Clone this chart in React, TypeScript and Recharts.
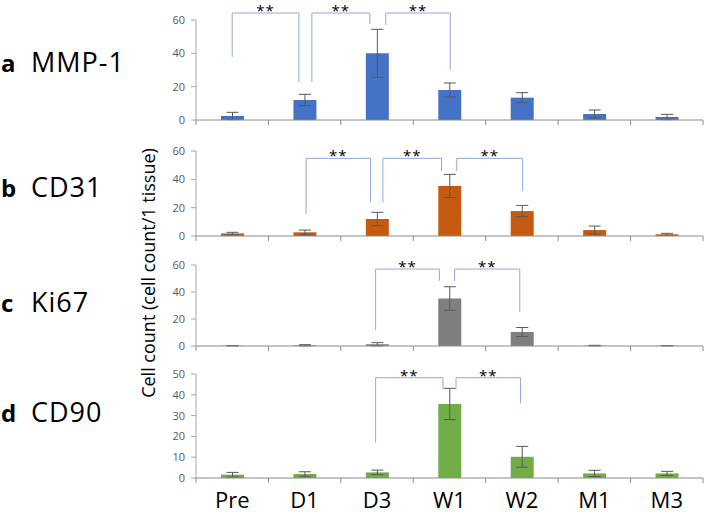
import { BarChart, Bar, XAxis, YAxis, ErrorBar, ReferenceLine } from "recharts";

// time points
const categories = ["Pre", "D1", "D3", "W1", "W2", "M1", "M3"];

// mean cell counts and SD
const mmp1 = [2.4, 12, 40, 18, 13.4, 3.6, 1.8];
const mmp1Err = [2.2, 3.4, 14.4, 4.2, 3, 2.4, 1.6];
const cd31 = [1.8, 2.6, 12, 35.3, 17.6, 4.2, 1.2];
const cd31Err = [0.8, 1.6, 4.7, 8.2, 4, 2.8, 0.7];
const ki67 = [0.2, 0.5, 1.3, 35.2, 10.4, 0.3, 0.2];
const ki67Err = [0.1, 0.5, 1.2, 8.7, 3.3, 0.2, 0.1];
const cd90 = [1.6, 1.9, 2.7, 35.6, 10.2, 2.2, 2.2];
const cd90Err = [1.1, 1.1, 1.1, 7.5, 5, 1.5, 1];

const ticks60 = [0, 20, 40, 60];
const ticks50 = [0, 10, 20, 30, 40, 50];

// significance brackets: x in category units (0..7), y in data units
type Bracket = { x1: number; x2: number; top: number; b1: number; b2: number };
const mmp1Brackets: Bracket[] = [
  { x1: 0.5, x2: 1.42, top: 64.2, b1: 37.8, b2: 22.8 },
  { x1: 1.6, x2: 2.4, top: 64.2, b1: 22.8, b2: 57.6 },
  { x1: 2.62, x2: 3.51, top: 64.2, b1: 57, b2: 30 },
];
const cd31Brackets: Bracket[] = [
  { x1: 1.52, x2: 2.41, top: 54.8, b1: 15.5, b2: 24 },
  { x1: 2.58, x2: 3.39, top: 54.8, b1: 24, b2: 45.9 },
  { x1: 3.6, x2: 4.51, top: 54.8, b1: 45.9, b2: 31.8 },
];
const ki67Brackets: Bracket[] = [
  { x1: 2.48, x2: 3.36, top: 57, b1: 11.7, b2: 48.3 },
  { x1: 3.57, x2: 4.47, top: 57, b1: 48.3, b2: 25.3 },
];
const cd90Brackets: Bracket[] = [
  { x1: 2.48, x2: 3.41, top: 48.2, b1: 17, b2: 42.8 },
  { x1: 3.59, x2: 4.48, top: 48.2, b1: 42.8, b2: 35.9 },
];

const FONT = "'Open Sans', sans-serif";
const BRACKET = "#8FAADC";
const PLOT_LEFT = 196;
const CHART_LEFT = 150;
const CHART_W = 709 - CHART_LEFT;

const edgeTicks = Array.from({ length: categories.length * 2 + 1 }, (_, i) => i / 2);

const panels = [
  { letter: "a", name: "MMP-1", values: mmp1, errors: mmp1Err, color: "#4472C4", brackets: mmp1Brackets,
    yMax: 60, yTicks: ticks60, top: 0, marginTop: 20, plotH: 100, axisH: 10, labels: false, baseline: 72 },
  { letter: "b", name: "CD31", values: cd31, errors: cd31Err, color: "#C55A11", brackets: cd31Brackets,
    yMax: 60, yTicks: ticks60, top: 135, marginTop: 16, plotH: 85, axisH: 10, labels: false, baseline: 197 },
  { letter: "c", name: "Ki67", values: ki67, errors: ki67Err, color: "#7F7F7F", brackets: ki67Brackets,
    yMax: 60, yTicks: ticks60, top: 250, marginTop: 15, plotH: 81, axisH: 10, labels: false, baseline: 312 },
  { letter: "d", name: "CD90", values: cd90, errors: cd90Err, color: "#70AD47", brackets: cd90Brackets,
    yMax: 50, yTicks: ticks50, top: 360, marginTop: 14, plotH: 104, axisH: 37, labels: true, baseline: 422 },
];

const makeTick = (showLabels: boolean) => (props: any) => {
  const { x, y, payload } = props;
  const v = payload.value;
  if (Number.isInteger(v)) {
    return <line x1={x} y1={y} x2={x} y2={y + 5} stroke="#8C8C8C" strokeWidth={1} />;
  }
  if (!showLabels) return <g />;
  return (
    <text x={x} y={y + 30} textAnchor="middle" fontSize={22} fill="#000" fontFamily={FONT}>
      {categories[Math.floor(v)]}
    </text>
  );
};

function renderBracket(b: Bracket, key: string) {
  return [
    <ReferenceLine
      key={key + "-l"}
      segment={[{ x: b.x1, y: b.top }, { x: b.x1, y: b.b1 }]}
      stroke={BRACKET}
      strokeWidth={1}
      ifOverflow="visible"
    />,
    <ReferenceLine
      key={key + "-r"}
      segment={[{ x: b.x2, y: b.top }, { x: b.x2, y: b.b2 }]}
      stroke={BRACKET}
      strokeWidth={1}
      ifOverflow="visible"
    />,
    <ReferenceLine
      key={key + "-t"}
      segment={[{ x: b.x1, y: b.top }, { x: b.x2, y: b.top }]}
      ifOverflow="visible"
      shape={(p: any) => (
        <g>
          <line x1={p.x1} y1={p.y1} x2={p.x2} y2={p.y2} stroke={BRACKET} strokeWidth={1} />
          <text
            x={(p.x1 + p.x2) / 2}
            y={p.y1 + 3}
            textAnchor="middle"
            fontSize={15}
            letterSpacing={1}
            fill="#000"
            fontFamily={FONT}
          >
            **
          </text>
        </g>
      )}
    />,
  ];
}

function Panel({ cfg }: { cfg: (typeof panels)[number] }) {
  const data = categories.map((name, i) => ({
    name,
    pos: i + 0.5,
    value: cfg.values[i],
    err: cfg.errors[i],
  }));
  const height = cfg.marginTop + cfg.plotH + cfg.axisH;
  return (
    <div style={{ position: "absolute", left: CHART_LEFT, top: cfg.top }}>
      <BarChart
        width={CHART_W}
        height={height}
        data={data}
        margin={{ top: cfg.marginTop, right: 6, bottom: 0, left: PLOT_LEFT - CHART_LEFT - 30 }}
        style={{ overflow: "visible" }}
      >
        <XAxis
          dataKey="pos"
          type="number"
          domain={[0, categories.length]}
          ticks={edgeTicks}
          interval={0}
          tickSize={0}
          tickMargin={0}
          tickLine={false}
          tick={makeTick(cfg.labels)}
          height={cfg.axisH}
          axisLine={{ stroke: "#8C8C8C", strokeWidth: 1 }}
        />
        <YAxis
          type="number"
          domain={[0, cfg.yMax]}
          ticks={cfg.yTicks}
          interval={0}
          width={30}
          tickSize={5}
          tickMargin={6}
          axisLine={{ stroke: "#A6A6A6" }}
          tickLine={{ stroke: "#A6A6A6" }}
          tick={{ fontSize: 11, fill: "#595959", fontFamily: FONT }}
        />
        <Bar dataKey="value" fill={cfg.color} barSize={23} isAnimationActive={false}>
          <ErrorBar dataKey="err" width={6} stroke="#595959" strokeWidth={1} direction="y" />
        </Bar>
        {cfg.brackets.flatMap((b, i) => renderBracket(b, cfg.letter + i))}
      </BarChart>
    </div>
  );
}

export default function App() {
  return (
    <div
      style={{
        position: "absolute",
        left: 0,
        top: 0,
        width: 709,
        height: 515,
        background: "#fff",
        fontFamily: FONT,
        overflow: "hidden",
      }}
    >
      <svg width={709} height={515} style={{ position: "absolute", left: 0, top: 0 }}>
        {panels.map((p) => (
          <g key={p.letter}>
            <text x={1} y={p.baseline} fontSize={24} fontWeight="bold" fontFamily={FONT} fill="#000">
              {p.letter}
            </text>
            <text x={31} y={p.baseline} fontSize={27} letterSpacing={1} fontFamily={FONT} fill="#000">
              {p.name}
            </text>
          </g>
        ))}
        <text
          transform="translate(148, 273) rotate(-90)"
          textAnchor="middle"
          dominantBaseline="central"
          fontSize={18}
          fontFamily={FONT}
          fill="#000"
        >
          Cell count (cell count/1 tissue)
        </text>
      </svg>
      {panels.map((p) => (
        <Panel key={p.letter} cfg={p} />
      ))}
    </div>
  );
}
